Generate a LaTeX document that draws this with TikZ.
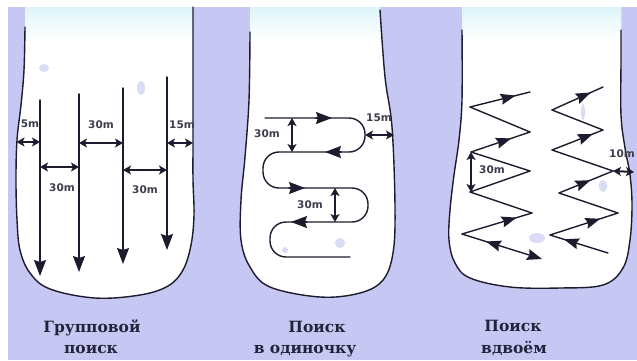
\documentclass[tikz,border=0pt]{standalone}
\usepackage{fontspec}
\usetikzlibrary{arrows.meta,decorations.markings}
\newfontfamily\capfont{DejaVu Serif}
\newfontfamily\labfont{DejaVu Sans}
\definecolor{bgc}{HTML}{C7C7F3}
\definecolor{glow}{HTML}{DDF5F8}
\definecolor{ink}{HTML}{1C1C2E}
\definecolor{captc}{HTML}{23233C}
\definecolor{smudge}{HTML}{D9DCF4}
\tikzset{
  outline/.style={draw=ink, line width=1.4pt, line cap=round},
  track/.style={draw=ink, line width=1.4pt, line cap=round, line join=round},
  tipped/.style={-{Stealth[length=16pt,width=12pt,inset=2pt]}},
  midarrow/.style={postaction={decorate}, decoration={markings, mark=at position #1 with {\arrow{Stealth[length=15pt,width=11pt,inset=2pt]}}}},
  dimarrow/.style={draw=ink, line width=2pt, {Stealth[length=8pt,width=9pt,inset=2pt]}-{Stealth[length=8pt,width=9pt,inset=2pt]}},
  lab/.style={font=\labfont\bfseries\fontsize{10.5}{11}\selectfont, text=ink!85, inner sep=0pt},
  capt/.style={font=\capfont\bfseries\fontsize{15.5}{16}\selectfont, text=captc, inner sep=0pt, anchor=base}
}
\def\pA{plot[smooth,tension=0.6] coordinates {(25,27) (24,70) (21,105) (17,140) (16,180) (17,220) (20,250) (30,273) (50,289) (95,298) (140,295) (168,286) (183,270) (191,245) (194,215) (193,180) (193,140) (193,100) (193,50) (193,7)}}
\def\pB{plot[smooth,tension=0.6] coordinates {(250,32) (249,100) (245,157) (241,200) (241,240) (250,267) (270,287) (320,297) (360,293) (383,280) (393,253) (395,207) (392,127) (385,77) (380,10)}}
\def\pC{plot[smooth,tension=0.6] coordinates {(462,30) (462,100) (459,140) (454,175) (450,210) (449,240) (455,263) (470,278) (510,287) (560,288) (603,285) (623,268) (630,240) (632,205) (630,175) (625,148) (621,115) (621,60) (621,30)}}
\begin{document}
\begin{tikzpicture}[x=1pt,y=-1pt]
\useasboundingbox (0,0) rectangle (637,360);
\fill[white] (0,0) rectangle (637,360);
\fill[bgc] (8,7) rectangle (637,360);
% panel fills
\begin{scope}
  \clip \pA -- (193,7) -- (25,7) -- cycle;
  \fill[white] (0,0) rectangle (637,360);
  \shade[top color=glow, bottom color=white] (0,7) rectangle (637,40);
\end{scope}
\begin{scope}
  \clip \pB -- (380,7) -- (250,7) -- cycle;
  \fill[white] (0,0) rectangle (637,360);
  \shade[top color=glow, bottom color=white] (0,7) rectangle (637,40);
\end{scope}
\begin{scope}
  \clip \pC -- (621,7) -- (462,7) -- cycle;
  \fill[white] (0,0) rectangle (637,360);
  \shade[top color=glow, bottom color=white] (0,7) rectangle (637,40);
\end{scope}
% smudges
\fill[smudge] (44,68) ellipse (5pt and 4pt);
\fill[smudge] (141,88) ellipse (4pt and 7pt);
\fill[smudge] (340,243) ellipse (5pt and 5pt);
\fill[smudge] (285,250) ellipse (3pt and 3pt);
\fill[smudge] (537,238) ellipse (8pt and 5pt);
\fill[smudge] (603,186) ellipse (4pt and 6pt);
\fill[smudge] (583,112) ellipse (2pt and 8pt);
% outlines
\draw[outline] \pA;
\draw[outline] \pB;
\draw[outline] \pC;

% ---------- panel 1: group search ----------
\coordinate (a1) at (40,100);  \coordinate (b1) at (40,276);
\coordinate (a2) at (79,94);   \coordinate (b2) at (79,272);
\coordinate (a3) at (123,88);  \coordinate (b3) at (123,264);
\coordinate (a4) at (167,77);  \coordinate (b4) at (167,250);
\draw[track,tipped] (a1) -- (b1);
\draw[track,tipped] (a2) -- (b2);
\draw[track,tipped] (a3) -- (b3);
\draw[track,tipped] (a4) -- (b4);
\coordinate (e1) at (16.5,142);
\coordinate (e2) at (193,143);
\draw[dimarrow] (e1) -- (40,142);
\draw[dimarrow] (40,167) -- (79,167);
\draw[dimarrow] (79,143) -- (123,143);
\draw[dimarrow] (123,170) -- (167,170);
\draw[dimarrow] (167,143) -- (e2);
\node[lab] (t5) at (30,124) {5m};
\node[lab] (t30a) at (62,188) {30m};
\node[lab] (t30b) at (101,125) {30m};
\node[lab] (t30c) at (145,190) {30m};
\node[lab] (t15a) at (182,125) {15m};

% ---------- panel 2: single search ----------
\draw[track, rounded corners=16pt] (265,118) -- (365,118) -- (365,152) -- (263,152) -- (263,188) -- (368,188) -- (368,222) -- (270,222) -- (270,257) -- (350,257);
\draw[track,tipped] (316,118) -- (332,118);
\draw[track,tipped] (341,152) -- (325,152);
\draw[track,tipped] (289,188) -- (305,188);
\draw[track,tipped] (307,222) -- (291,222);
\draw[dimarrow] (292,118) -- (292,152);
\draw[dimarrow] (335,188) -- (335,222);
\coordinate (e3) at (394,135);
\draw[dimarrow] (365,135) -- (e3);
\node[lab] (t30d) at (267,134) {30m};
\node[lab] (t30e) at (310,205) {30m};
\node[lab] (t15b) at (379,118) {15m};

% ---------- panel 3: search in pairs ----------
\coordinate (E) at (530,92);  \coordinate (L4) at (470,107);
\coordinate (R3) at (530,132); \coordinate (L3) at (471,152);
\coordinate (R2) at (530,171); \coordinate (L2) at (470,192);
\coordinate (R1) at (532,213); \coordinate (L1) at (462,234);
\coordinate (B) at (542,259);
\draw[track, midarrow=0.76] (L4) -- (E);
\draw[track] (R3) -- (L4);
\draw[track, midarrow=0.68] (L3) -- (R3);
\draw[track] (R2) -- (L3);
\draw[track] (L2) -- (R2);
\draw[track] (R1) -- (L2);
\draw[track, midarrow=0.78] (L1) -- (R1);
\draw[track, {Stealth[length=15pt,width=11pt,inset=2pt]}-, midarrow=0.7] (B) -- (L1);

\coordinate (Ep) at (603,87);  \coordinate (L4p) at (552,110);
\coordinate (R3p) at (603,130); \coordinate (L3p) at (552,150);
\coordinate (R2p) at (613,171); \coordinate (L2p) at (559,193);
\coordinate (R1p) at (618,213); \coordinate (L1p) at (550,235);
\coordinate (Bp) at (608,253);
\draw[track, midarrow=0.76] (L4p) -- (Ep);
\draw[track, midarrow=0.8] (L3p) -- (R3p);
\draw[track] (R3p) -- (L4p);
\draw[track] (R2p) -- (L3p);
\draw[track, midarrow=0.58] (L2p) -- (R2p);
\draw[track] (R1p) -- (L2p);
\draw[track, midarrow=0.74] (L1p) -- (R1p);
\draw[track, midarrow=0.76] (Bp) -- (L1p);

\draw[dimarrow] (L3) -- (471,192);
\coordinate (e4) at (634,172);
\draw[dimarrow] (R2p) -- (e4);
\node[lab] (t30f) at (492,170) {30m};
\node[lab] (t10) at (622,154) {10m};

% ---------- captions ----------
\node[capt] (c1a) at (92,332) {Групповой};
\node[capt] (c1b) at (91,353) {поиск};
\node[capt] (c2a) at (317,332) {Поиск};
\node[capt] (c2b) at (305,353) {в одиночку};
\node[capt] (c3a) at (513,331) {Поиск};
\node[capt] (c3b) at (514,353) {вдвоём};
\end{tikzpicture}
\end{document}
